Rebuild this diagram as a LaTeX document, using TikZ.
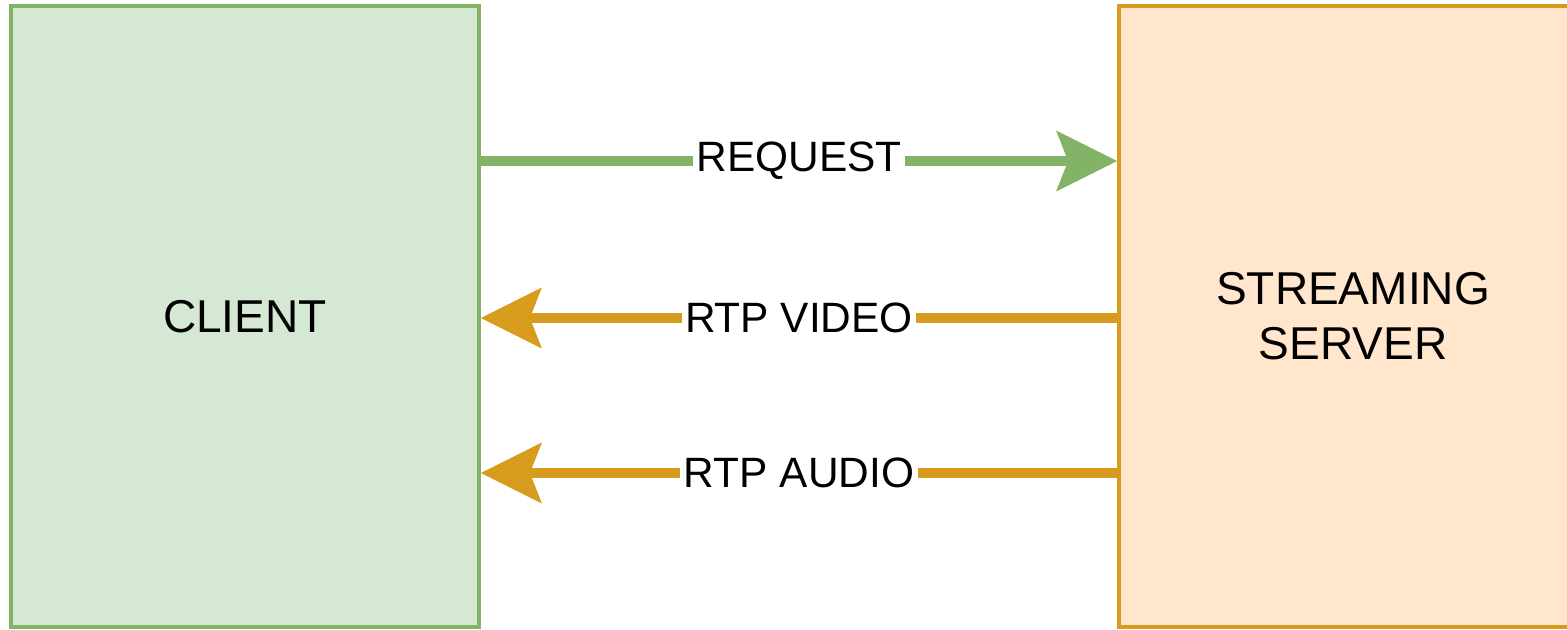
\documentclass[tikz,border=0pt]{standalone}
\usepackage{fontspec}
\setmainfont{Liberation Sans}
\usepackage{tikz}
\usetikzlibrary{arrows.meta,positioning}

\definecolor{clientfill}{HTML}{D5E8D4}
\definecolor{clientline}{HTML}{82B366}
\definecolor{serverfill}{HTML}{FFE6CC}
\definecolor{serverline}{RGB}{215,155,30}

\begin{document}
\begin{tikzpicture}
		\tikzstyle{Box}		= [rectangle, draw, line width=1.1pt, minimum width=4.68cm, minimum height=6.21cm, inner sep=0pt, align=center, font=\fontsize{13.1}{15.6}\selectfont]
		\tikzstyle{Client}	= [fill=clientfill, draw=clientline]
		\tikzstyle{Server}	= [fill=serverfill, draw=serverline]
		\tikzstyle{Label}	= [fill=white, text=black, inner xsep=1pt, inner ysep=0pt, font=\fontsize{12.07}{14}\selectfont]
		\tikzstyle{Req}		= [line width=0.1cm, clientline]
		\tikzstyle{Rtp}		= [line width=0.1cm, serverline]
		\tikzstyle{Tip}		= [-{Stealth[length=0.61cm, width=0.61cm, inset=0.12cm, line width=0pt]}]

		\useasboundingbox (0,0) rectangle (15.67,-6.29);
		\clip (0,0) rectangle (15.67,-6.29);

		\node (client) at (2.45, -3.165) [Box][Client] {CLIENT};
		\node (server) at (13.53, -3.165) [Box][Server] {STREAMING\\SERVER};

		\draw [Tip] ([yshift=1.555cm]client.east) to node [Label] {REQUEST} ([yshift=1.555cm]server.west) [Req];
		\draw [Tip] ([yshift=-0.015cm]server.west) to node [Label] {RTP VIDEO} ([yshift=-0.015cm]client.east) [Rtp];
		\draw [Tip] ([yshift=-1.565cm]server.west) to node [Label] {RTP AUDIO} ([yshift=-1.565cm]client.east) [Rtp];
	\end{tikzpicture}
\end{document}
